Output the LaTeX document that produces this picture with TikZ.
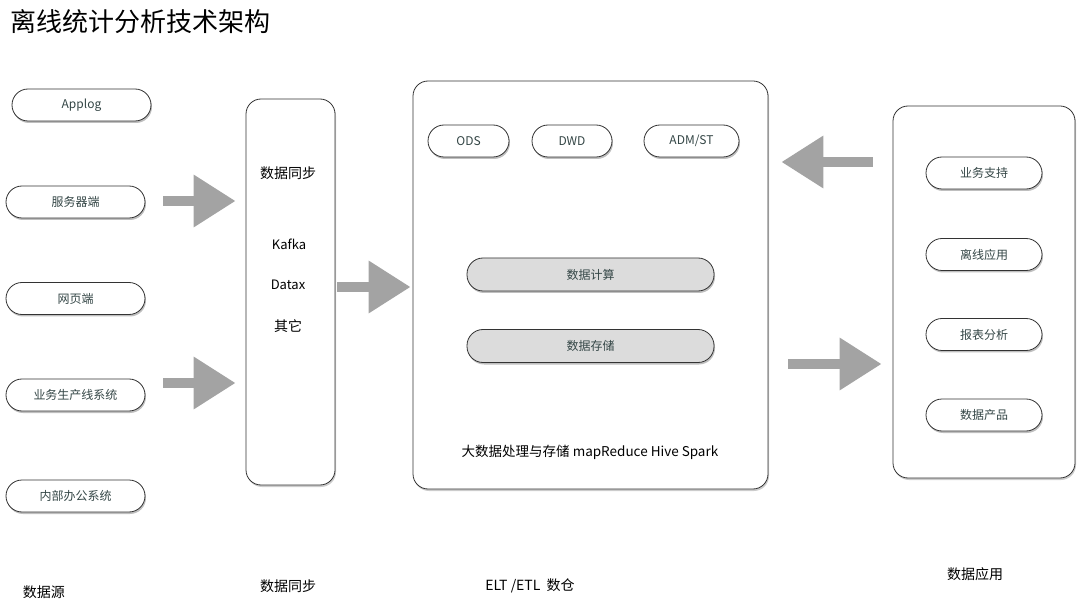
\documentclass[tikz,border=0pt]{standalone}
\usepackage{fontspec}
\setmainfont{Noto Sans CJK SC}
\usetikzlibrary{arrows.meta,shadows}
\definecolor{arrowgray}{RGB}{163,163,163}
\definecolor{pilltext}{RGB}{52,70,70}
\definecolor{calcfill}{RGB}{220,220,220}

\begin{document}
\begin{tikzpicture}[x=1pt,y=-1pt,
    pill/.style={draw=black!80,line width=0.8pt,rounded corners=16pt,fill=white,
        minimum height=32pt,inner sep=0pt,text=pilltext,font=\fontsize{12}{14}\selectfont,
        drop shadow={shadow xshift=1pt,shadow yshift=-2pt,opacity=0.25,fill=black}},
    graypill/.style={pill,fill=calcfill},
    bigbox/.style={draw=black!80,line width=0.8pt,rounded corners=15pt,fill=white,inner sep=0pt,
        drop shadow={shadow xshift=1pt,shadow yshift=-2pt,opacity=0.2,fill=black}},
    lbl/.style={font=\fontsize{14}{16}\selectfont,inner sep=0pt},
    fatarrow/.style={arrowgray,line width=10pt,-{Triangle[length=42pt,width=50pt]}}]

    \useasboundingbox (0,0) rectangle (1080,604);

    % title
    \node[anchor=west,inner sep=0pt,font=\fontsize{26}{30}\selectfont] (title) at (10,22) {离线统计分析技术架构};

    % data sources
    \node[pill,minimum width=139pt] (s1) at (81.5,105) {Applog};
    \node[pill,minimum width=139pt] (s2) at (75.5,202) {服务器端};
    \node[pill,minimum width=139pt] (s3) at (75.5,298.5) {网页端};
    \node[pill,minimum width=139pt] (s4) at (75.5,395) {业务生产线系统};
    \node[pill,minimum width=139pt] (s5) at (75.5,496) {内部办公系统};

    % sync box
    \node[bigbox,minimum width=89pt,minimum height=386pt] (sync) at (290.5,292) {};
    \node[lbl] (synct) at (288,173) {数据同步};
    \node[lbl,font=\fontsize{13}{15}\selectfont] (kafka) at (289,244) {Kafka};
    \node[lbl,font=\fontsize{13}{15}\selectfont] (datax) at (288,285) {Datax};
    \node[lbl] (other) at (288,326) {其它};

    % warehouse box
    \node[bigbox,minimum width=355pt,minimum height=408pt] (dw) at (590.5,285) {};
    \node[pill,minimum width=81pt] (ods) at (468.5,141) {ODS};
    \node[pill,minimum width=80pt] (dwd) at (572,141) {DWD};
    \node[pill,minimum width=95pt] (adm) at (691.5,141) {ADM/ST};
    \node[graypill,minimum width=247pt,minimum height=33pt] (calc) at (590.5,274.5) {数据计算};
    \node[graypill,minimum width=247pt,minimum height=33pt] (store) at (590.5,346) {数据存储};
    \node[lbl,font=\fontsize{13.5}{16}\selectfont] (dwt) at (590,452) {大数据处理与存储 mapReduce Hive Spark};

    % application box
    \node[bigbox,minimum width=182pt,minimum height=372pt] (app) at (984,292) {};
    \node[pill,minimum width=116pt] (a1) at (984,173) {业务支持};
    \node[pill,minimum width=116pt] (a2) at (984,254.5) {离线应用};
    \node[pill,minimum width=116pt] (a3) at (984,334.5) {报表分析};
    \node[pill,minimum width=116pt] (a4) at (984,415) {数据产品};

    % arrows
    \coordinate (in1) at (163,201);
    \coordinate (in2) at (163,383);
    \draw[fatarrow,shorten >=10pt] (in1) -- (in1 -| sync.west);
    \draw[fatarrow,shorten >=10pt] (in2) -- (in2 -| sync.west);
    \draw[fatarrow,shorten <=2pt,shorten >=2pt] (sync.east |- 0,287) -- (dw.west |- 0,287);
    \draw[fatarrow,shorten <=20pt,shorten >=13pt] (app.west |- 0,162) -- (dw.east |- 0,162);
    \draw[fatarrow,shorten <=20pt,shorten >=11pt] (dw.east |- 0,364) -- (app.west |- 0,364);

    % bottom labels
    \node[lbl] (lsrc) at (44,592) {数据源};
    \node[lbl] (lsync) at (288,586) {数据同步};
    \node[lbl] (ldw) at (530,586) {ELT /ETL\ \ 数仓};
    \node[lbl] (lapp) at (975,574) {数据应用};

\end{tikzpicture}
\end{document}
